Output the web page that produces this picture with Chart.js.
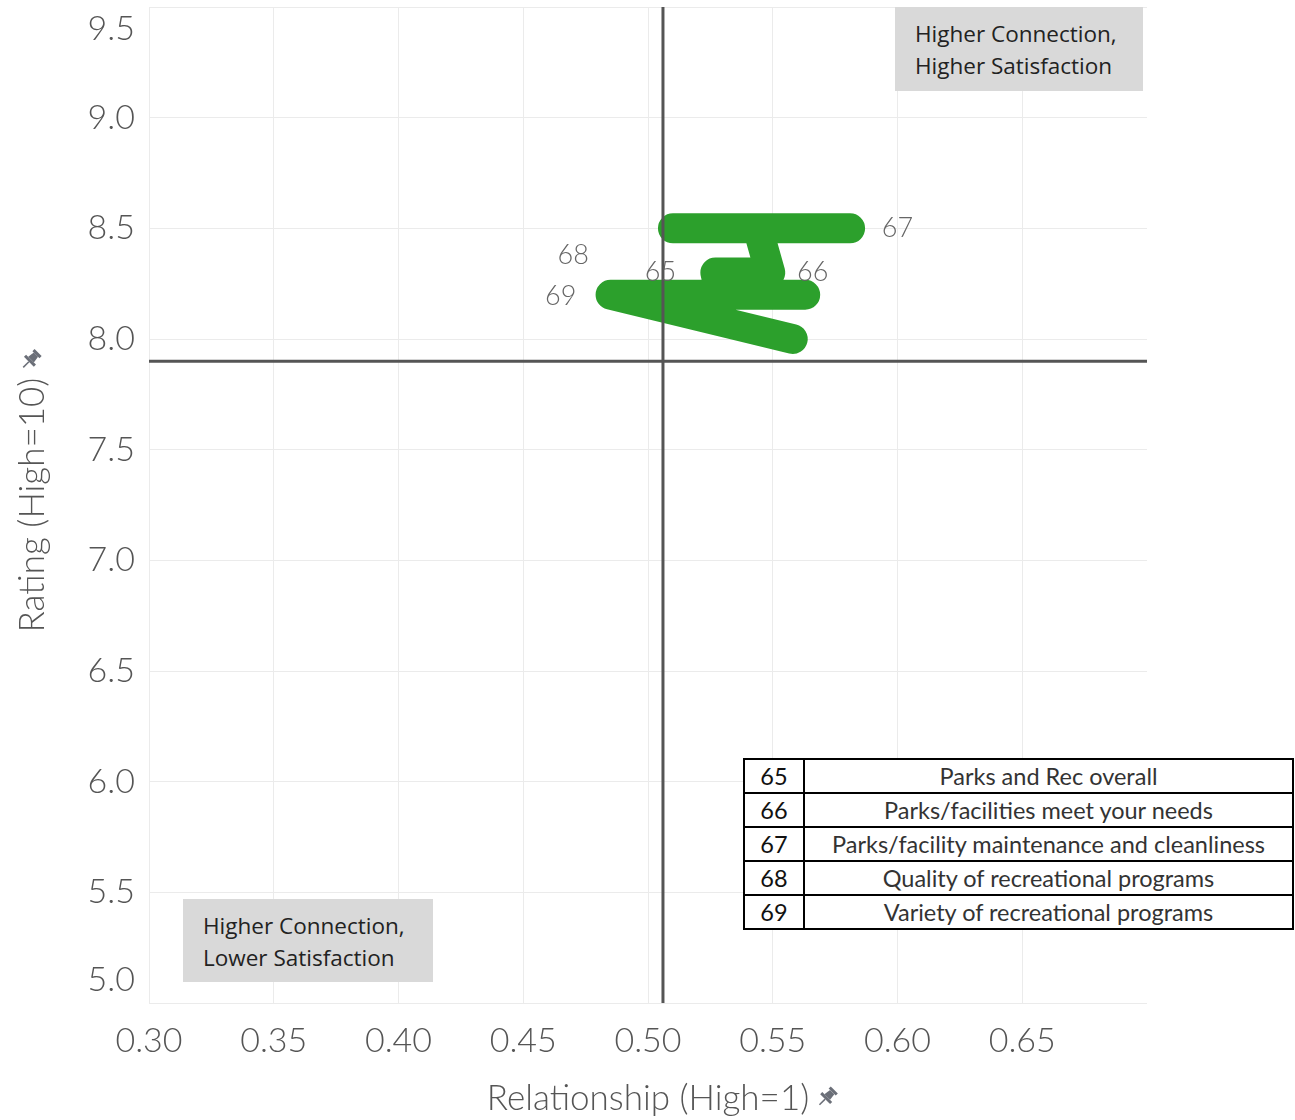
<!DOCTYPE html>
<html>
<head>
<meta charset="utf-8">
<script src="https://cdn.jsdelivr.net/npm/chart.js@4.4.1/dist/chart.umd.min.js"></script>
<style>
  body{margin:0;background:#fff;}
  #wrap{position:relative;width:1295px;height:1120px;}
  #chart{position:absolute;left:0;top:0;}
  .note{position:absolute;background:#d9d9d9;font-family:"Open Sans",sans-serif;font-size:22.5px;line-height:32px;color:#222;box-sizing:border-box;padding:11px 0 0 20px;}
  #key{position:absolute;left:743px;top:758px;width:551px;border-collapse:collapse;font-family:Lato,sans-serif;font-size:23.5px;color:#333;background:#fff;}
  #key td{border:2px solid #000;height:32px;padding:0;text-align:center;}
  #key td.id{width:58px;color:#111;}
</style>
</head>
<body>
<div id="wrap">
  <canvas id="chart" width="1295" height="1120"></canvas>
  <div class="note" style="left:895px;top:7px;width:248px;height:84px;">Higher Connection,<br>Higher Satisfaction</div>
  <div class="note" style="left:183px;top:899px;width:250px;height:83px;">Higher Connection,<br>Lower Satisfaction</div>
  <table id="key"></table>
</div>
<script>
// axis ranges / ticks
const xTicks = [0.30, 0.35, 0.40, 0.45, 0.50, 0.55, 0.60, 0.65];
const yTicks = [5.0, 5.5, 6.0, 6.5, 7.0, 7.5, 8.0, 8.5, 9.0, 9.5];

// the thick green trace, in drawing order
const traceX = [0.510, 0.581, 0.544, 0.549, 0.527, 0.529, 0.563, 0.485, 0.558];
const traceY = [8.50, 8.50, 8.50, 8.30, 8.30, 8.20, 8.20, 8.20, 8.00];

// item numbers and where their labels sit
const itemIds = ['65', '66', '67', '68', '69'];
const itemNames = ['Parks and Rec overall', 'Parks/facilities meet your needs',
  'Parks/facility maintenance and cleanliness', 'Quality of recreational programs',
  'Variety of recreational programs'];
const labelX = [0.505, 0.566, 0.600, 0.470, 0.465];
const labelY = [8.30, 8.30, 8.50, 8.38, 8.195];

// quadrant dividers
const crossX = 0.506;
const crossY = 7.9;

const key = document.getElementById('key');
itemIds.forEach((id, i) => {
  const tr = document.createElement('tr');
  tr.innerHTML = '<td class="id">' + id + '</td><td>' + itemNames[i] + '</td>';
  key.appendChild(tr);
});

const tickFont = { family: '"Lato Light", Lato, sans-serif', size: 34, weight: '300' };
const grey = '#555';

function drawPin(ctx, cx, cy){
  ctx.save();
  ctx.translate(cx, cy);
  ctx.rotate(Math.PI / 4);
  ctx.fillStyle = '#6b6f78';
  ctx.strokeStyle = '#6b6f78';
  ctx.fillRect(-5, -10, 10, 3);
  ctx.beginPath();
  ctx.moveTo(-3, -7); ctx.lineTo(3, -7); ctx.lineTo(4, 0); ctx.lineTo(-4, 0); ctx.closePath();
  ctx.fill();
  ctx.fillRect(-7, 0, 14, 3);
  ctx.lineWidth = 1.5;
  ctx.beginPath(); ctx.moveTo(0, 3); ctx.lineTo(0, 11); ctx.stroke();
  ctx.restore();
}

const extras = {
  id: 'extras',
  afterDraw(chart){
    const { ctx, chartArea, scales: { x, y } } = chart;
    ctx.save();
    // end tick labels of the y axis are pulled inside the plot height
    ctx.font = `${tickFont.weight} ${tickFont.size}px ${tickFont.family}`;
    ctx.fillStyle = grey;
    ctx.textAlign = 'right';
    ctx.textBaseline = 'middle';
    const yMax = yTicks[yTicks.length - 1], yMin = yTicks[0];
    ctx.fillText(yMax.toFixed(1), chartArea.left - 14, y.getPixelForValue(yMax) + 22);
    ctx.fillText(yMin.toFixed(1), chartArea.left - 14, y.getPixelForValue(yMin) - 23);

    // item labels
    ctx.font = '300 27px "Lato Light", Lato, sans-serif';
    ctx.fillStyle = '#666';
    ctx.textAlign = 'center';
    itemIds.forEach((id, i) => {
      ctx.fillText(id, x.getPixelForValue(labelX[i]), y.getPixelForValue(labelY[i]));
    });

    // pins after the axis titles
    ctx.font = x.options.title.font.weight + ' ' + x.options.title.font.size + 'px "Lato Light", Lato, sans-serif';
    const wx = ctx.measureText(x.options.title.text).width;
    drawPin(ctx, (chartArea.left + chartArea.right) / 2 + wx / 2 + 18, 1097);
    ctx.font = y.options.title.font.weight + ' ' + y.options.title.font.size + 'px "Lato Light", Lato, sans-serif';
    const wy = ctx.measureText(y.options.title.text).width;
    drawPin(ctx, 31, (chartArea.top + chartArea.bottom) / 2 - wy / 2 - 18);
    ctx.restore();
  }
};

new Chart(document.getElementById('chart'), {
  type: 'scatter',
  data: {
    datasets: [
      {
        data: [{ x: crossX, y: yTicks[0] }, { x: crossX, y: yTicks[yTicks.length - 1] }],
        showLine: true, borderColor: '#555', borderWidth: 3, pointRadius: 0, order: 1
      },
      {
        data: [{ x: 0.30, y: crossY }, { x: 0.70, y: crossY }],
        showLine: true, borderColor: '#555', borderWidth: 3, pointRadius: 0, order: 1
      },
      {
        data: traceX.map((v, i) => ({ x: v, y: traceY[i] })),
        showLine: true, borderColor: '#2ca02c', borderWidth: 30,
        borderCapStyle: 'round', borderJoinStyle: 'round',
        pointRadius: 0, tension: 0, order: 2
      }
    ]
  },
  options: {
    responsive: false,
    animation: false,
    layout: { padding: { top: 7, right: 148, left: 0, bottom: 0 } },
    plugins: { legend: { display: false }, tooltip: { enabled: false } },
    scales: {
      x: {
        type: 'linear', min: 0.30, max: 0.70,
        afterFit: s => { s.height = 117; s.paddingLeft = 0; s.paddingRight = 0; },
        border: { display: false },
        grid: { drawTicks: false, color: c => (c.tick && c.tick.value > 0.699) ? 'rgba(0,0,0,0)' : '#ebebeb' },
        ticks: {
          stepSize: 0.05, padding: 18, color: grey, font: tickFont,
          callback: v => xTicks.some(t => Math.abs(t - v) < 1e-6) ? v.toFixed(2) : ''
        },
        title: {
          display: true, text: 'Relationship (High=1)', color: grey,
          font: { family: '"Lato Light", Lato, sans-serif', size: 35, weight: '300' },
          padding: { top: 0, bottom: 0 }
        }
      },
      y: {
        type: 'linear', min: 5.0, max: 9.5,
        afterFit: s => { s.width = 149; s.paddingTop = 0; s.paddingBottom = 0; },
        border: { display: false },
        grid: { drawTicks: false, color: '#ebebeb' },
        ticks: {
          stepSize: 0.5, padding: 14, color: grey, font: tickFont,
          callback: v => (v === yTicks[0] || v === yTicks[yTicks.length - 1]) ? '' : v.toFixed(1)
        },
        title: {
          display: true, text: 'Rating (High=10)', color: grey,
          font: { family: '"Lato Light", Lato, sans-serif', size: 35, weight: '300' },
          padding: { top: 12, bottom: 0 }
        }
      }
    }
  },
  plugins: [extras]
});
</script>
</body>
</html>
